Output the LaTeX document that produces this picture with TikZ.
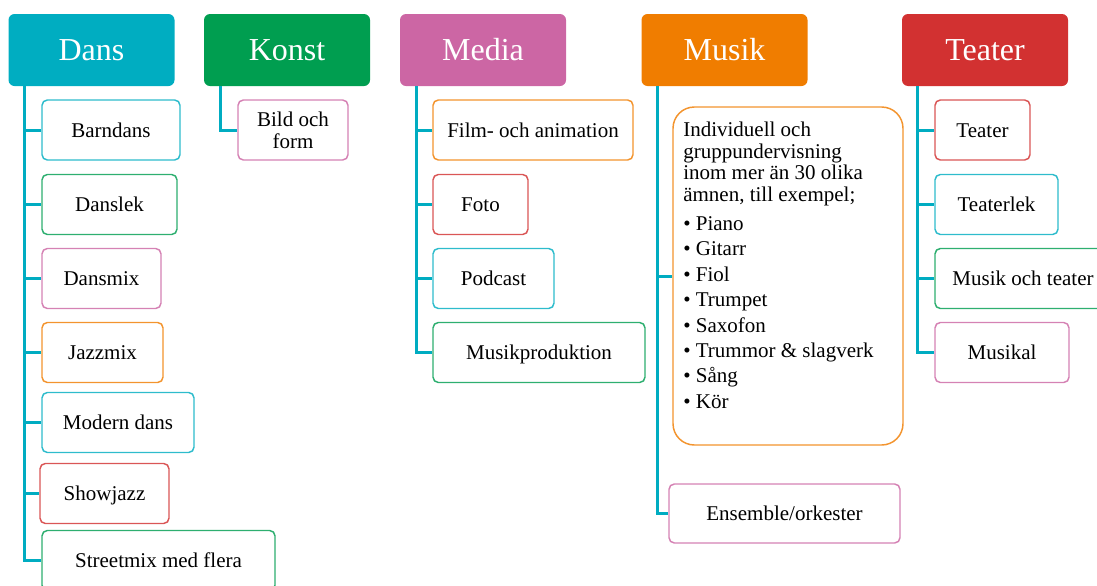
\documentclass[tikz,border=0pt]{standalone}
\usepackage{fontspec}
\setmainfont{Liberation Serif}
\definecolor{cdans}{RGB}{0,173,193}
\definecolor{ckonst}{RGB}{0,158,80}
\definecolor{cmedia}{RGB}{204,102,164}
\definecolor{cmusik}{RGB}{240,125,0}
\definecolor{cteater}{RGB}{210,49,49}
\definecolor{cline}{RGB}{0,172,193}
\tikzset{
  head/.style={fill=#1, draw=none, rounded corners=4.5pt, text=white,
    font=\fontsize{24}{28}\selectfont, minimum width=124.5pt, minimum height=54pt,
    text height=21.4pt, text depth=5.2pt, inner sep=0pt},
  itembox/.style={draw=#1!82!white, line width=1.1pt, rounded corners=4pt, fill=white,
    font=\fontsize{15.75}{16.3}\selectfont, minimum height=45pt,
    text height=14pt, text depth=3.4pt, inner sep=0pt},
  conn/.style={draw=cline, line width=2.25pt},
}
\begin{document}
\begin{tikzpicture}[x=0.75pt, y=-0.75pt]
\useasboundingbox (0,0) rectangle (1097,586);

% headers
\node[head=cdans] (dans) at (91.5,50) {Dans};
\node[head=ckonst] (konst) at (287,50) {Konst};
\node[head=cmedia] (media) at (483,50) {Media};
\node[head=cmusik] (musik) at (724.5,50) {Musik};
\node[head=cteater] (teater) at (985,50) {Teater};

% Dans
\node[itembox=cdans, minimum width=103.5pt] (barndans) at (111,130) {Barndans};
\node[itembox=ckonst, minimum width=101.25pt] (danslek) at (109.5,204.5) {Danslek};
\node[itembox=cmedia, minimum width=89.25pt] (dansmix) at (101.5,278.5) {Dansmix};
\node[itembox=cmusik, minimum width=90.75pt] (jazzmix) at (102.5,352.5) {Jazzmix};
\node[itembox=cdans, minimum width=114pt] (modern) at (118,422.5) {Modern dans};
\node[itembox=cteater, minimum width=96.75pt] (showjazz) at (104.5,493.5) {Showjazz};
\node[itembox=ckonst, minimum width=174.75pt] (streetmix) at (158.5,560.5) {Streetmix med flera};

% Konst
\node[itembox=cmedia, minimum width=82.5pt, text height={}, text depth={}, align=center] (bild) at (293,130) {Bild och\\form};

% Media
\node[itembox=cmusik, minimum width=150pt] (film) at (533,130) {Film- och animation};
\node[itembox=cteater, minimum width=71.25pt] (foto) at (480.5,204.5) {Foto};
\node[itembox=cdans, minimum width=90.75pt] (podcast) at (493.5,278.5) {Podcast};
\node[itembox=ckonst, minimum width=159pt] (musikprod) at (539,352.5) {Musikproduktion};

% Musik
\node[draw=cmusik!82!white, line width=1.1pt, rounded corners=16pt, fill=white,
  minimum width=172.5pt, minimum height=253.5pt, inner sep=0pt] (undervisning) at (788,276) {};
\node[anchor=north west, inner sep=0pt, align=left, font=\fontsize{15.75}{16.3}\selectfont]
  (undervisningtext) at (683,121.5)
  {Individuell och\\gruppundervisning\\inom mer än 30 olika\\ämnen, till exempel;\\[5.45pt]%
   • Piano\\[2.75pt]• Gitarr\\[2.75pt]• Fiol\\[2.75pt]• Trumpet\\[2.75pt]• Saxofon\\[2.75pt]%
   • Trummor \& slagverk\\[2.75pt]• Sång\\[2.75pt]• Kör};
\node[itembox=cmedia, minimum width=173.25pt, minimum height=44.25pt] (ensemble) at (784.5,513.5) {Ensemble/orkester};

% Teater
\node[itembox=cteater, minimum width=71.25pt] (teat) at (982.5,130) {Teater};
\node[itembox=cdans, minimum width=92.25pt] (teaterlek) at (996.5,204.5) {Teaterlek};
\node[itembox=ckonst, minimum width=132pt] (musikteater) at (1023,278.5) {Musik och teater};
\node[itembox=cmedia, minimum width=100.5pt] (musikal) at (1002,352.5) {Musikal};

% connectors
\foreach \c in {barndans,danslek,dansmix,jazzmix,modern,showjazz,streetmix}
  \draw[conn] (dans.south west) ++(16,0) |- (\c.west);
\draw[conn] (konst.south west) ++(17,0) |- (bild.west);
\foreach \c in {film,foto,podcast,musikprod}
  \draw[conn] (media.south west) ++(17,0) |- (\c.west);
\foreach \c in {undervisning,ensemble}
  \draw[conn] (musik.south west) ++(16,0) |- (\c.west);
\foreach \c in {teat,teaterlek,musikteater,musikal}
  \draw[conn] (teater.south west) ++(16,0) |- (\c.west);
\end{tikzpicture}
\end{document}
